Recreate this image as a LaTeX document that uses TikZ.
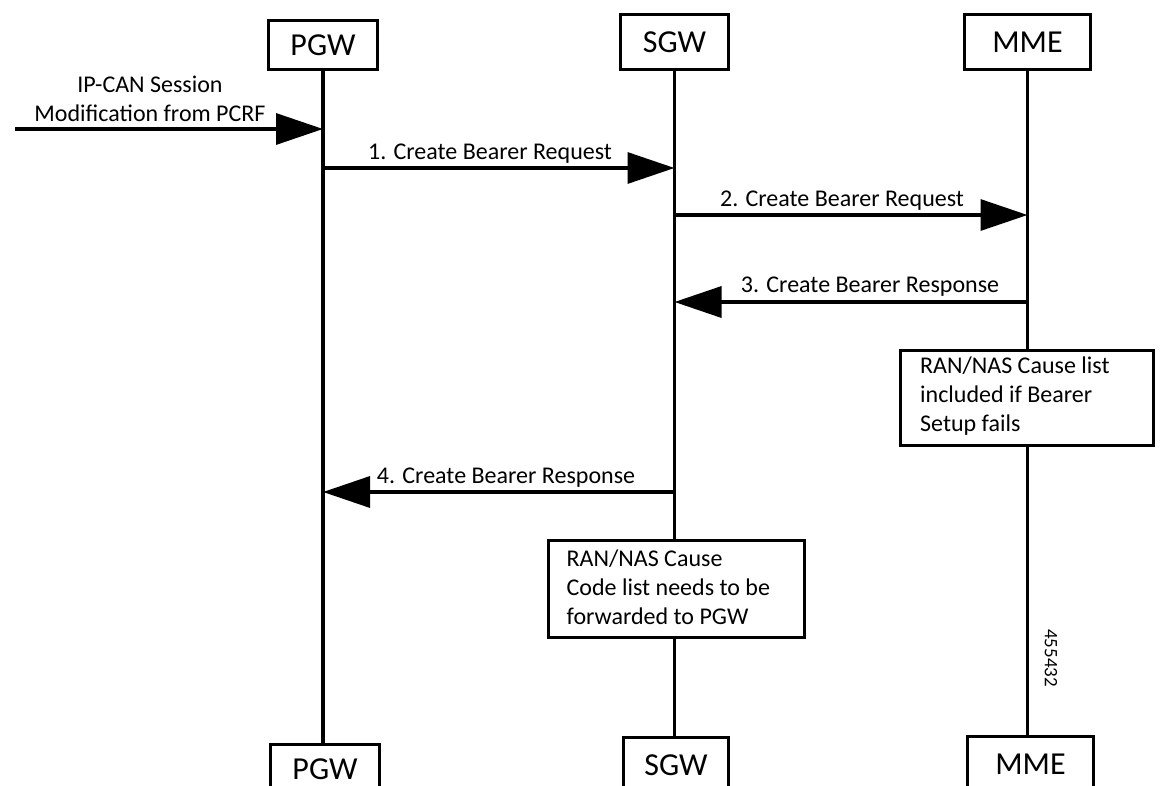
\documentclass[tikz,border=0pt]{standalone}
\usepackage{fontspec}
\setmainfont{Carlito}
\usetikzlibrary{arrows.meta}
\begin{document}
\begin{tikzpicture}[x=1pt,y=-1pt,
  ent/.style={draw, line width=3.3pt, inner sep=0pt, fill=white, font=\fontsize{32}{38}\selectfont},
  lifeline/.style={line width=3.3pt},
  msg/.style={line width=3.3pt, -{Triangle[length=47pt,width=31pt]}},
  lbl/.style={inner sep=0pt, font=\fontsize{24}{29}\selectfont},
  notebox/.style={draw, line width=3.3pt, fill=white, inner sep=0pt},
  notetext/.style={inner sep=0pt, align=left, anchor=north west, font=\fontsize{24}{29}\selectfont}]
\path[use as bounding box, fill=white] (0,0) rectangle (1160,786);

% entities
\node[ent, minimum width=108.7pt, minimum height=48.7pt] (pgwT) at (323,45) {PGW};
\node[ent, minimum width=107.7pt, minimum height=54.7pt] (sgwT) at (674.5,42) {SGW};
\node[ent, minimum width=125.7pt, minimum height=54.7pt] (mmeT) at (1027.5,42) {MME};
\node[ent, minimum width=108.7pt, minimum height=48.7pt] (pgwB) at (325,769) {PGW};
\node[ent, minimum width=104.7pt, minimum height=54.7pt] (sgwB) at (676,765) {SGW};
\node[ent, minimum width=125.7pt, minimum height=54.7pt] (mmeB) at (1030.5,764) {MME};

% notes
\node[notebox, minimum width=255.7pt, minimum height=96.7pt] (sgwNote) at (676.5,589) {};
\node[notetext, xshift=19.5pt, yshift=-7pt] (sgwNoteText) at (sgwNote.north west)
  {\strut RAN/NAS Cause\\\strut Code list needs to be\\\strut forwarded to PGW};
\node[notebox, minimum width=252.7pt, minimum height=94.7pt] (mmeNote) at (1027,398) {};
\node[notetext, xshift=21pt, yshift=-4pt] (mmeNoteText) at (mmeNote.north west)
  {\strut RAN/NAS Cause list\\\strut included if Bearer\\\strut Setup fails};

% lifelines
\draw[lifeline] (pgwT.south) -- (pgwT.south |- pgwB.north);
\draw[lifeline] (sgwT.south) -- (sgwT.south |- sgwNote.north);
\draw[lifeline] (sgwT.south |- sgwNote.south) -- (sgwT.south |- sgwB.north);
\draw[lifeline] (mmeT.south) -- (mmeT.south |- mmeNote.north);
\draw[lifeline] (mmeT.south |- mmeNote.south) -- (mmeT.south |- mmeB.north);

% message end points
\coordinate (pcrf) at (15,129);
\path (pgwT.south |- pcrf) coordinate (pgw0);
\path (pgwT.south |- 0,168) coordinate (pgw1);
\path (sgwT.south |- 0,168) coordinate (sgw1);
\path (sgwT.south |- 0,215) coordinate (sgw2);
\path (mmeT.south |- 0,215) coordinate (mme2);
\path (mmeT.south |- 0,302) coordinate (mme3);
\path (sgwT.south |- 0,302) coordinate (sgw3);
\path (sgwT.south |- 0,492) coordinate (sgw4);
\path (pgwT.south |- 0,492) coordinate (pgw4);

% messages
\draw[msg] (pcrf) -- (pgw0);
\draw[msg] (pgw1) -- (sgw1);
\draw[msg] (sgw2) -- (mme2);
\draw[msg] (mme3) -- (sgw3);
\draw[msg] (sgw4) -- (pgw4);

% labels
\node[lbl, align=center, anchor=north] (lpcrf) at (150,71.7)
  {\strut IP-CAN Session\\\strut Modification from PCRF};
\node[lbl, anchor=base] (l1) at (490,160) {1. Create Bearer Request};
\node[lbl, anchor=base] (l2) at (842,207) {2. Create Bearer Request};
\node[lbl, anchor=base] (l3) at (870,293) {3. Create Bearer Response};
\node[lbl, anchor=base] (l4) at (506,483) {4. Create Bearer Response};

\node[inner sep=0pt, rotate=-90, font=\fontsize{19}{23}\selectfont] (fig) at (1051,658) {455432};
\end{tikzpicture}
\end{document}
